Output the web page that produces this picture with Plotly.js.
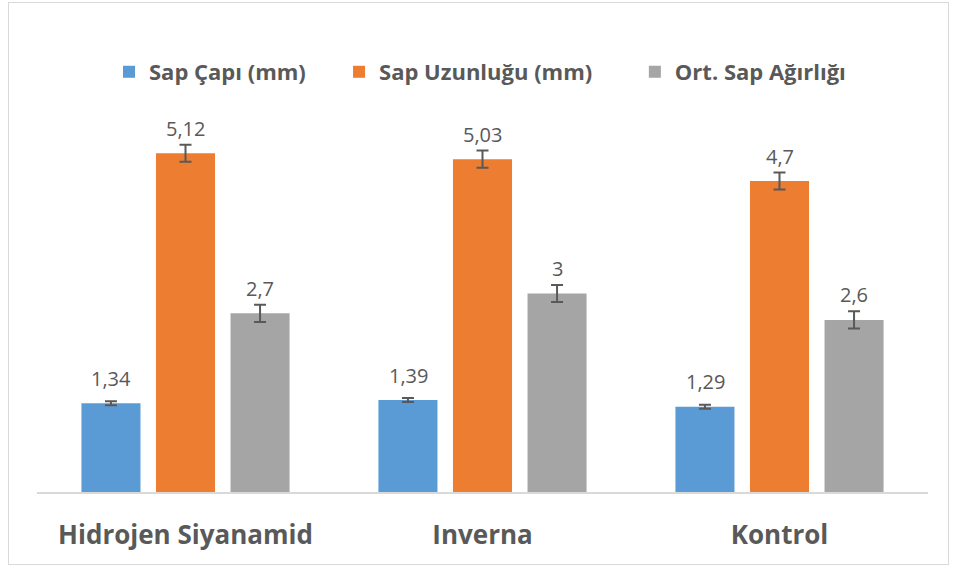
<!DOCTYPE html>
<html>
<head>
<meta charset="utf-8">
<script src="https://cdn.plot.ly/plotly-3.0.1.min.js"></script>
<style>
html,body{margin:0;padding:0;background:#fff;}
#wrap{position:relative;width:957px;height:572px;}
#chart{width:957px;height:572px;}
#frame{position:absolute;left:8px;top:2px;width:941px;height:563px;border:1px solid #d9d9d9;box-sizing:border-box;pointer-events:none;}
</style>
</head>
<body>
<div id="wrap"><div id="chart"></div><div id="frame"></div></div>
<script>
const categories = ["Hidrojen Siyanamid", "Inverna", "Kontrol"];
const seriesNames = ["Sap Çapı (mm)", "Sap Uzunluğu (mm)", "Ort. Sap Ağırlığı"];
const capValues = [1.34, 1.39, 1.29];
const lengthValues = [5.12, 5.03, 4.7];
const weightValues = [2.7, 3, 2.6];
const capErrors = [0.03, 0.03, 0.03];
const lengthErrors = [0.13, 0.13, 0.13];
const weightErrors = [0.13, 0.13, 0.13];
const colors = ["#5b9bd5", "#ed7d31", "#a5a5a5"];

const allValues = [capValues, lengthValues, weightValues];
const allErrors = [capErrors, lengthErrors, weightErrors];

const fontFam = "Open Sans, Liberation Sans, sans-serif";
const legendIds = ["legend", "legend2", "legend3"];
const legendX = [0.0808, 0.339, 0.671];

const traces = allValues.map((vals, i) => ({
  type: "bar",
  name: seriesNames[i],
  legend: legendIds[i],
  x: categories,
  y: vals,
  marker: {color: colors[i]},
  error_y: {type: "data", array: allErrors[i], visible: true, color: "#595959", thickness: 2, width: 6},
  hoverinfo: "skip"
}));

// data labels
const slot = 74.5;
const annotations = [];
allValues.forEach((vals, i) => {
  vals.forEach((v, j) => {
    annotations.push({
      x: categories[j], y: v, xref: "x", yref: "y",
      text: String(v).replace(".", ","),
      showarrow: false,
      xshift: (i - 1) * slot,
      yshift: 25,
      yanchor: "middle",
      font: {family: fontFam, size: 20, color: "#595959"}
    });
  });
});

const legendBase = {
  orientation: "h", xanchor: "left", y: 1.058, yanchor: "middle",
  font: {family: fontFam, size: 22, color: "#595959", weight: "bold"},
  itemclick: false, itemdoubleclick: false, bgcolor: "rgba(0,0,0,0)"
};

const layout = {
  width: 957, height: 572,
  margin: {l: 37, r: 29, t: 95, b: 80},
  paper_bgcolor: "#fff", plot_bgcolor: "#fff",
  barmode: "group",
  bargap: 0.247,
  bargroupgap: 0.208,
  showlegend: true,
  xaxis: {
    showline: true, linecolor: "#d9d9d9", linewidth: 1.5,
    ticks: "", showgrid: false, zeroline: false,
    tickfont: {family: fontFam, size: 26, color: "#595959", weight: "bold"},
    ticklabelstandoff: 19
  },
  yaxis: {
    range: [0, 6], showgrid: false, zeroline: false, showticklabels: false, showline: false, ticks: ""
  },
  annotations: annotations
};
legendIds.forEach((id, i) => {
  layout[id] = Object.assign({}, legendBase, {x: legendX[i]});
});

Plotly.newPlot("chart", traces, layout, {displayModeBar: false, staticPlot: true});
</script>
</body>
</html>
